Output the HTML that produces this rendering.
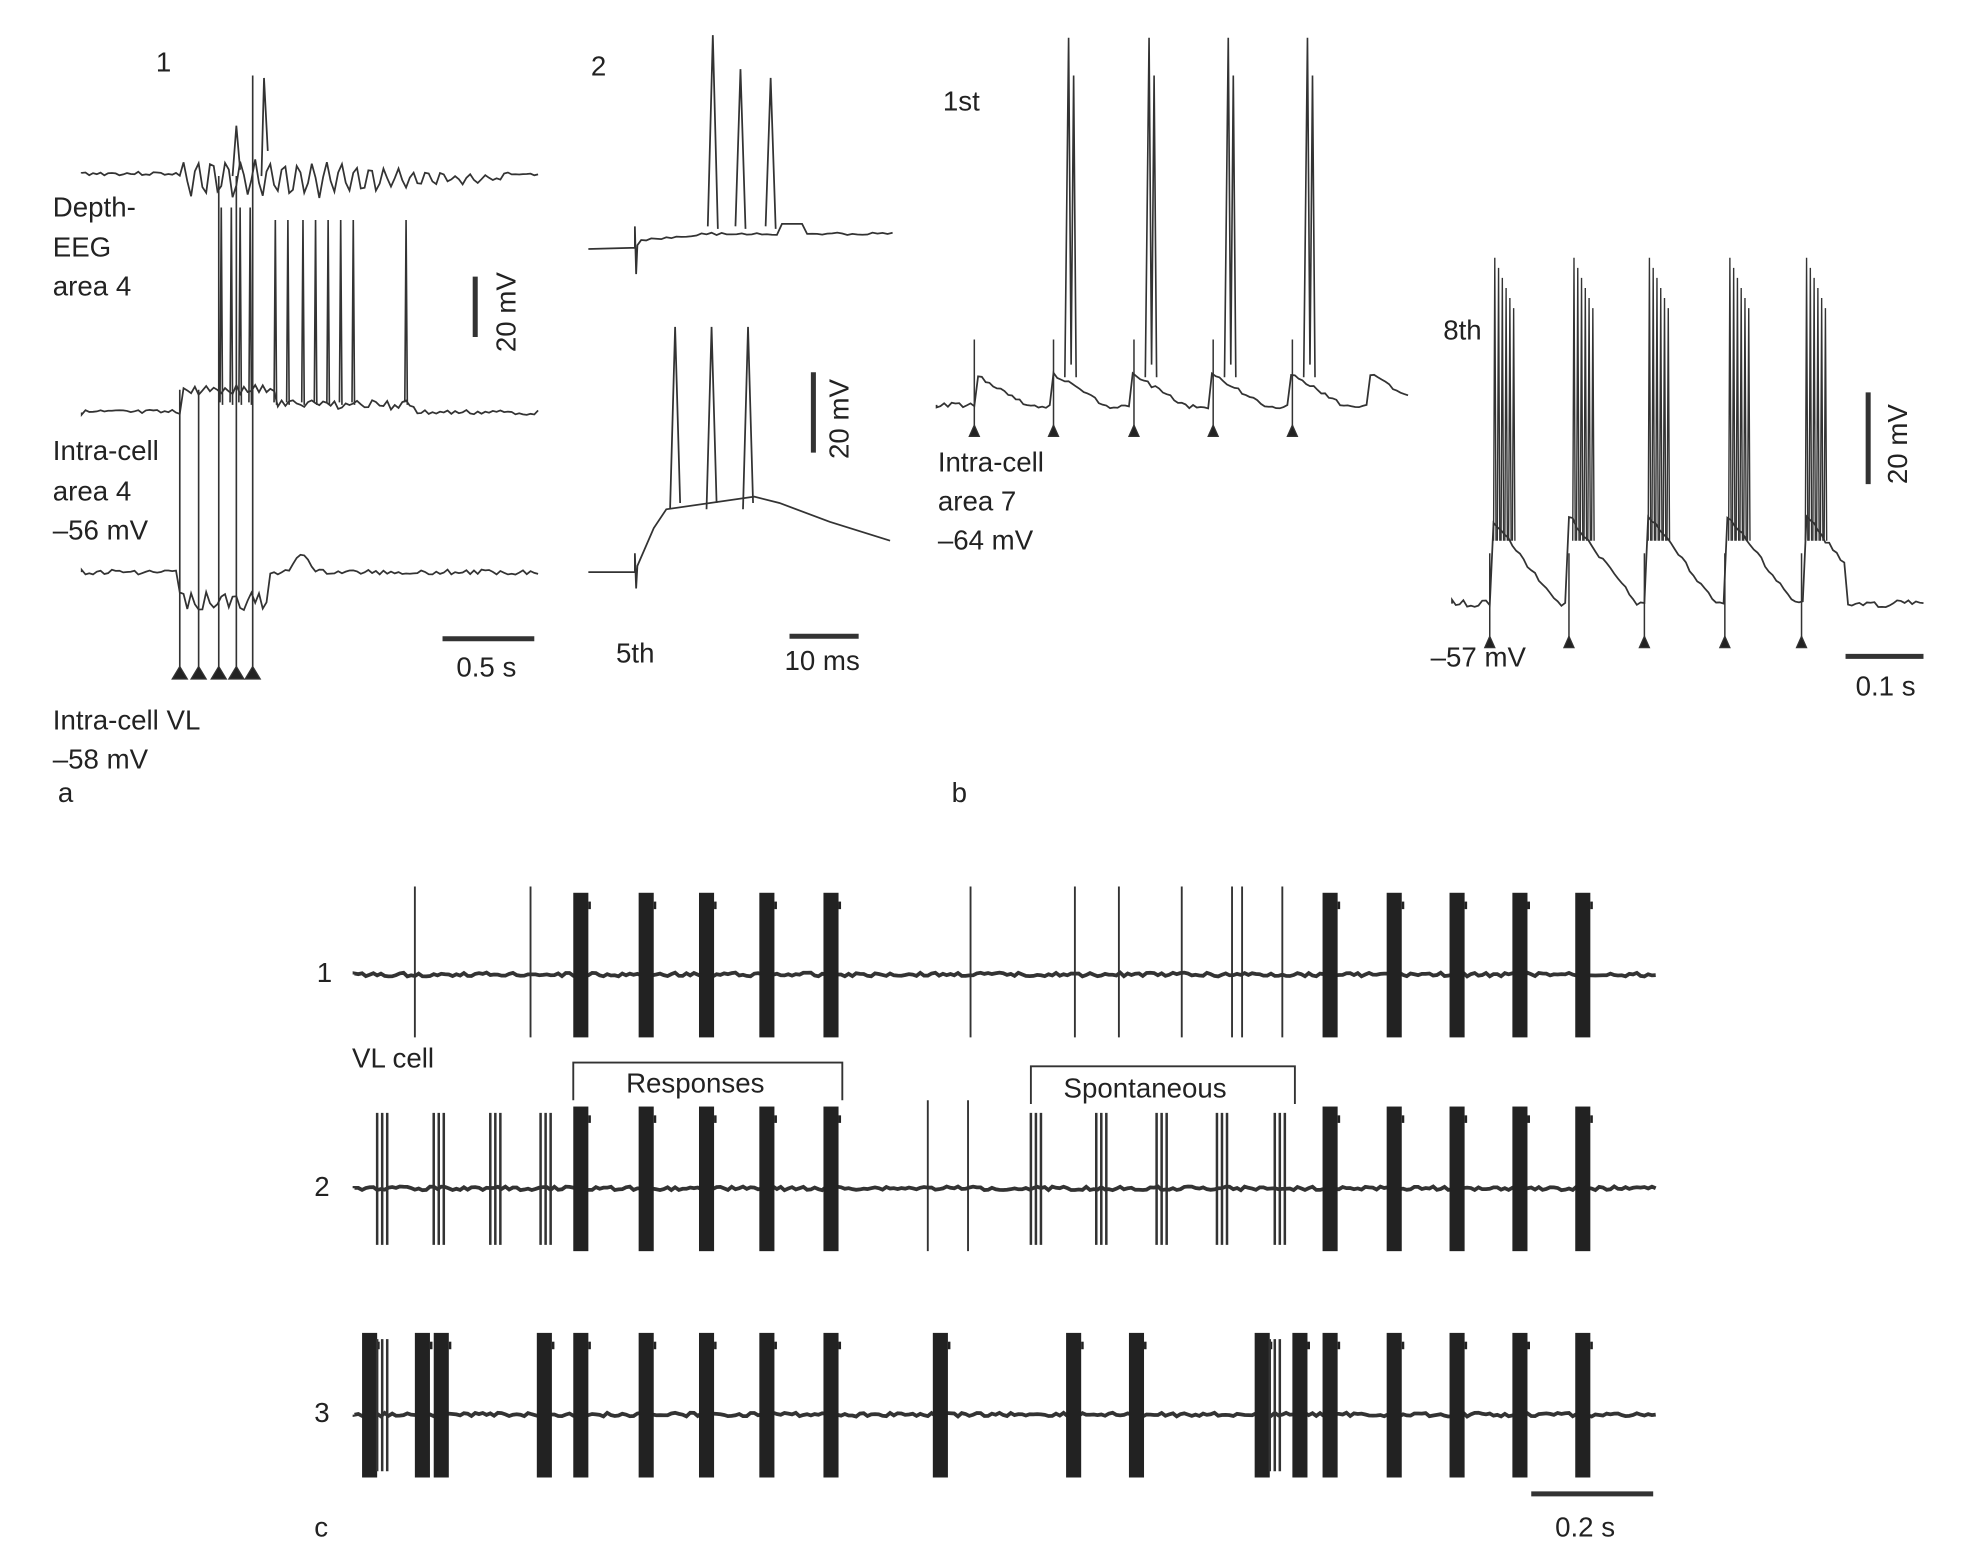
<!DOCTYPE html>
<html><head><meta charset="utf-8">
<style>
html,body{margin:0;padding:0;background:#fff;width:1970px;height:1563px;overflow:hidden}
svg{display:block}
text{font-family:"Liberation Sans",sans-serif;font-size:22px;fill:#222}
</style></head><body>
<svg id="s" width="1970" height="1563" viewBox="0 0 1567 1243" preserveAspectRatio="none">
<g fill="none" stroke="#333" stroke-width="1.6" id="g"></g>
<g id="labels">
<text x="124" y="57">1</text>
<text x="42" y="172">Depth-</text><text x="42" y="204">EEG</text><text x="42" y="235">area 4</text>
<text x="42" y="366">Intra-cell</text><text x="42" y="398">area 4</text><text x="42" y="429">–56 mV</text>
<text x="42" y="580">Intra-cell VL</text><text x="42" y="611">–58 mV</text><text x="46" y="638">a</text>
<text x="363" y="538">0.5 s</text>
<text transform="translate(410,280) rotate(-90)">20 mV</text>
<text x="470" y="60">2</text>
<text x="490" y="527">5th</text><text x="624" y="533">10 ms</text>
<text transform="translate(675,365) rotate(-90)">20 mV</text>
<text x="750" y="88">1st</text>
<text x="746" y="375">Intra-cell</text><text x="746" y="406">area 7</text><text x="746" y="437">–64 mV</text>
<text x="1148" y="270">8th</text>
<text transform="translate(1517,385) rotate(-90)">20 mV</text>
<text x="1138" y="530">–57 mV</text><text x="1476" y="553">0.1 s</text>
<text x="757" y="638">b</text>
<text x="252" y="781">1</text><text x="250" y="951">2</text><text x="250" y="1131">3</text>
<text x="280" y="849">VL cell</text>
<text x="498" y="869">Responses</text><text x="846" y="873">Spontaneous</text>
<text x="250" y="1222">c</text><text x="1237" y="1222">0.2 s</text>
</g>
</svg>
<script>
var g=document.getElementById('g'),NS='http://www.w3.org/2000/svg';
function P(d,w,f){var p=document.createElementNS(NS,'path');p.setAttribute('d',d);if(w)p.setAttribute('stroke-width',w);if(f){p.setAttribute('fill',f);}g.appendChild(p);}
function R(x,y,w,h){var r=document.createElementNS(NS,'rect');r.setAttribute('x',x);r.setAttribute('y',y);r.setAttribute('width',w);r.setAttribute('height',h);r.setAttribute('fill','#222');r.setAttribute('stroke','none');g.appendChild(r);}
var seed=3;function rnd(){seed=(seed*9301+49297)%233280;return seed/233280;}
var d='M65 138';for(var x=65;x<=430;x+=3){var y=138;if(x>140&&x<400){var a=(x<250?14:14*(400-x)/150);y=140+a*Math.sin(x*0.55)+rnd()*4;}else y+=rnd()*3-1.5;d+=' L'+x+' '+y.toFixed(1);}P(d,1.4);
P('M208 140 L210 62 L213 120',1.4);P('M185 140 L188 100 L191 135',1.4);
d='M65 328';for(x=65;x<=430;x+=3){y=328+rnd()*4-2;if(x>145&&x<330)y=318+rnd()*8-(x<220?12:0);d+=' L'+x+' '+y.toFixed(1);}P(d,1.4);
[175,183,190,198,218,228,240,250,260,270,280,322].forEach(function(s){P('M'+s+' 320 L'+(s+1)+' '+(s<200?165:175)+' L'+(s+2)+' 322',1.3);});
d='M65 455';for(x=65;x<=430;x+=3){y=455+rnd()*4-2;if(x>140&&x<215)y=470+rnd()*16;if(x>230&&x<250)y=455-14*Math.sin((x-230)/20*Math.PI);d+=' L'+x+' '+y.toFixed(1);}P(d,1.4);
[143,158,174,188,201].forEach(function(s,i){P('M'+s+' 535 L'+s+' '+(i==4?60:(i>1?140:310)),1.3);P('M'+(s-6)+' 540 L'+(s+6)+' 540 L'+s+' 530 Z',1,'#222');});
P('M352 508 L425 508',4);P('M378 220 L378 268',4);
d='M468 198 L505 197 L505 180 L506 218 L507 195';for(x=510;x<=710;x+=4){y=190-(x<560?(x-510)/10:5)+rnd()*2;if(x>620&&x<640)y=178;d+=' L'+x+' '+y.toFixed(1);}P(d,1.4);
[[567,28],[589,55],[613,62]].forEach(function(s){P('M'+(s[0]-4)+' 180 L'+s[0]+' '+s[1]+' L'+(s[0]+4)+' 182',1.4);});
P('M468 455 L505 455 L505 440 L506 468 L507 450 L520 420 L530 405 L600 395 L620 400 L660 415 L708 430',1.4);
[537,566,595].forEach(function(s){P('M'+(s-4)+' 405 L'+s+' 260 L'+(s+4)+' 400',1.4);});
P('M628 506 L683 506',4);P('M647 296 L647 360',4);
d='M745 322';for(x=745;x<=1120;x+=3){var ph=((x-775)%63+63)%63;y=322+rnd()*4-2;if(x>775)y=322-Math.max(0,26-ph*0.6)+rnd()*3;d+=' L'+x+' '+y.toFixed(1);}P(d,1.4);
[775,838,902,965,1028].forEach(function(s,i){P('M'+s+' 345 L'+s+' 270',1.2);P('M'+(s-4)+' 347 L'+(s+4)+' 347 L'+s+' 338 Z',1,'#222');if(i>0){var sx=s+12;P('M'+(sx-3)+' 300 L'+sx+' 30 L'+(sx+2)+' 290 L'+(sx+4)+' 60 L'+(sx+6)+' 300',1.3);}});
d='M1155 480';for(x=1155;x<=1530;x+=3){ph=((x-1185)%63+63)%63;y=480+rnd()*6-3;if(x>1185&&x<1470)y=478-Math.max(0,70-ph*1.3)+rnd()*4;d+=' L'+x+' '+y.toFixed(1);}P(d,1.4);
[1185,1248,1308,1372,1433].forEach(function(s){P('M'+s+' 512 L'+s+' 440',1.2);P('M'+(s-4)+' 515 L'+(s+4)+' 515 L'+s+' 506 Z',1,'#222');for(var k=0;k<6;k++){var sx=s+3+k*3;P('M'+sx+' 430 L'+(sx+1)+' '+(205+k*8)+' L'+(sx+2)+' 430',1.1);}});
P('M1468 522 L1530 522',4);P('M1486 312 L1486 385',4);
function row(by,bursts,lines,sp){d='M282 '+by;for(x=282;x<=1318;x+=3){d+=' L'+x+' '+(by+rnd()*3-1.5).toFixed(1);}P(d,3);
bursts.forEach(function(b){R(b,by-65,12,115);R(b+12,by-58,2,6);});
lines.forEach(function(b){P('M'+b+' '+(by-70)+' L'+b+' '+(by+50),1.5);});
(sp||[]).forEach(function(b){for(var k=0;k<3;k++){P('M'+(b+k*4)+' '+(by-60)+' L'+(b+k*4)+' '+(by+45),2);}});}
var main=[456,508,556,604,655,1052,1103,1153,1203,1253];
row(775,main,[330,422,772,855,890,940,980,988,1020]);
row(945,main.concat([]),[738,770],[300,345,390,430,820,872,920,968,1014]);
row(1125,main.concat([288,330,345,427,742,848,898,998,1028]),[],[300,1010]);
P('M456 875 L456 845 L670 845 L670 875',1.5);P('M820 878 L820 848 L1030 848 L1030 878',1.5);
P('M1218 1188 L1315 1188',4);
</script>
</body></html>
